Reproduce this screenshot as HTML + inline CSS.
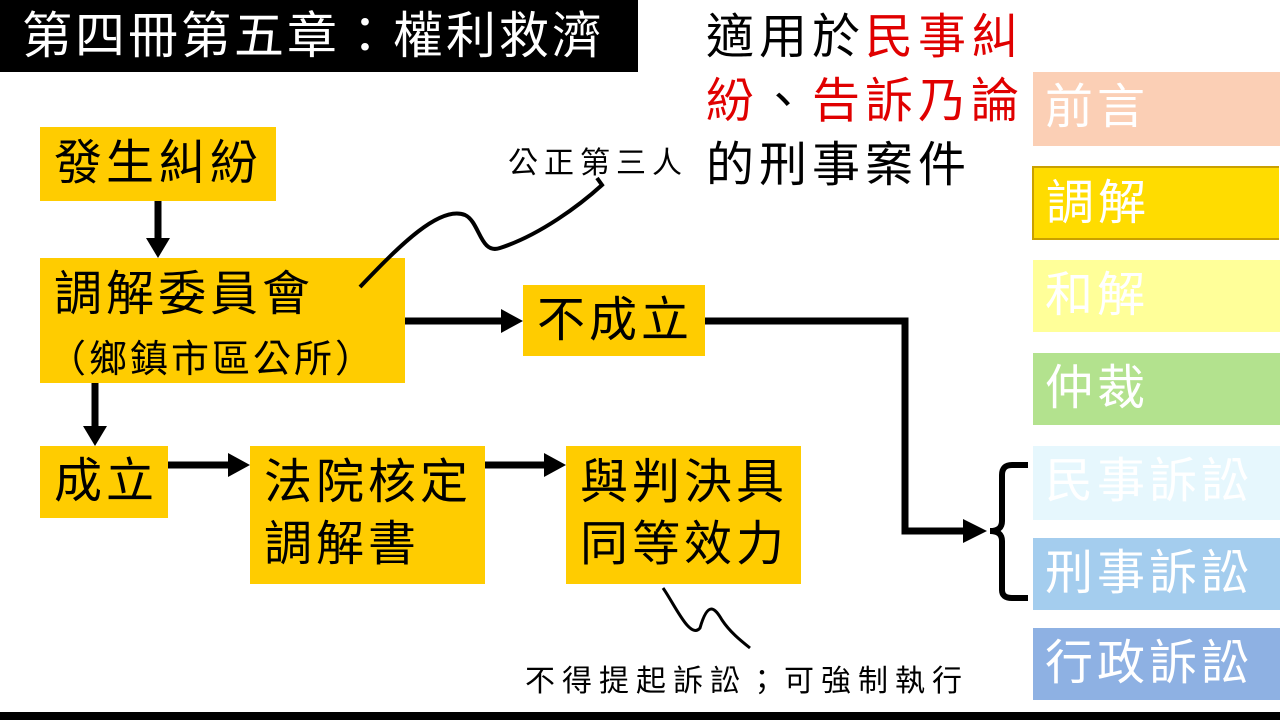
<!DOCTYPE html>
<html><head><meta charset="utf-8"><style>
body{margin:0;width:1280px;height:720px;background:#fff;position:relative;overflow:hidden;font-family:"Liberation Sans","Noto Sans CJK TC",sans-serif;}
.a{position:absolute;box-sizing:border-box;}
.y{background:#ffcc00;color:#000;font-size:48px;letter-spacing:4px;line-height:62px;padding-left:14px;white-space:nowrap;}
.r{left:1033px;width:247px;color:#fff;font-size:48px;letter-spacing:4px;line-height:72px;padding-left:12px;white-space:nowrap;}
</style></head><body>
<div class="a" style="left:0;top:0;width:638px;height:72px;background:#000;color:#fff;font-size:50px;line-height:72px;padding-left:22px;letter-spacing:3px;white-space:nowrap">第四冊第五章：權利救濟</div>
<div class="a" style="left:706px;top:6px;font-size:48px;line-height:64px;letter-spacing:5px;white-space:nowrap">適用於<span style="color:#e00000">民事糾</span><br><span style="color:#e00000">紛</span>、<span style="color:#e00000">告訴乃論</span><br>的刑事案件</div>
<div class="a" style="left:0;top:712px;width:1280px;height:8px;background:#000"></div>

<div class="a r" style="top:72px;height:74px;background:#fbcfb5">前言</div>
<div class="a r" style="top:166px;height:74px;background:#ffdc00;border:2px solid #c9a000;border-right:none;left:1032px">調解</div>
<div class="a r" style="top:260px;height:72px;background:#ffff99">和解</div>
<div class="a r" style="top:353px;height:72px;background:#b3e28e">仲裁</div>
<div class="a r" style="top:446px;height:74px;background:#e6f7fd">民事訴訟</div>
<div class="a r" style="top:538px;height:72px;background:#a4cdee">刑事訴訟</div>
<div class="a r" style="top:628px;height:72px;background:#8eb1e3">行政訴訟</div>

<div class="a y" style="left:40px;top:127px;width:236px;height:74px;line-height:74px">發生糾紛</div>
<div class="a y" style="left:40px;top:258px;width:365px;height:125px;padding-top:6px">調解委員會<br><span style="font-size:38px;letter-spacing:3px;position:relative;left:-6px">（鄉鎮市區公所）</span></div>
<div class="a y" style="left:523px;top:285px;width:182px;height:71px;line-height:71px">不成立</div>
<div class="a y" style="left:40px;top:446px;width:128px;height:72px;line-height:72px">成立</div>
<div class="a y" style="left:250px;top:446px;width:235px;height:138px;padding-top:6px">法院核定<br>調解書</div>
<div class="a y" style="left:566px;top:446px;width:235px;height:138px;padding-top:6px">與判決具<br>同等效力</div>

<div class="a" style="left:508px;top:138px;font-size:30px;letter-spacing:6px;white-space:nowrap">公正第三人</div>
<div class="a" style="left:525px;top:656px;font-size:30px;letter-spacing:7px;white-space:nowrap">不得提起訴訟；可強制執行</div>

<svg class="a" style="left:0;top:0" width="1280" height="720">
<g stroke="#000" stroke-width="7" fill="none">
<line x1="158" y1="201" x2="158" y2="240"/>
<line x1="95" y1="383" x2="95" y2="428"/>
<line x1="405" y1="321" x2="503" y2="321"/>
<line x1="168" y1="465" x2="230" y2="465"/>
<line x1="485" y1="465" x2="546" y2="465"/>
<polyline points="705,321 905,321 905,531 965,531"/>
<path d="M1028,465 H1012 Q1002,465 1002,475 V521 Q1002,531 990,531 Q1002,531 1002,541 V590 Q1002,598 1012,598 H1028" stroke-width="6"/>
</g>
<g fill="#000">
<polygon points="146,238 170,238 158,258"/>
<polygon points="83,426 107,426 95,446"/>
<polygon points="501,309 501,333 523,321"/>
<polygon points="228,453 228,477 250,465"/>
<polygon points="544,453 544,477 566,465"/>
<polygon points="963,519 963,543 987,531"/>
</g>
<path d="M360,287 C400,245 440,205 465,215 C480,222 480,255 500,248 C540,235 580,205 602,185 L597,178" stroke="#000" stroke-width="4" fill="none"/>
<path d="M663,588 C675,605 690,640 700,628 C708,600 715,608 722,620 C730,632 740,640 750,648" stroke="#000" stroke-width="3" fill="none"/>
</svg>
</body></html>
